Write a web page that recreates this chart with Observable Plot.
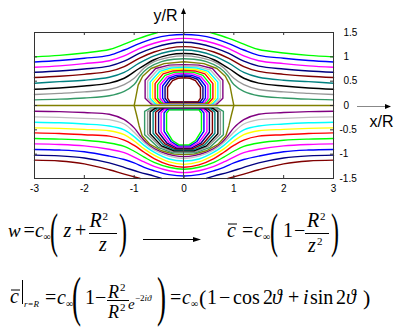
<!DOCTYPE html>
<html>
<head>
<meta charset="utf-8">
<script src="https://cdn.jsdelivr.net/npm/d3@7"></script>
<script src="https://cdn.jsdelivr.net/npm/@observablehq/plot@0.6"></script>
<style>
  body { margin: 0; background: #fff; }
  #wrap { position: relative; width: 396px; height: 329px; overflow: hidden; }
  #wrap svg { position: absolute; left: 0; top: 0; }
</style>
</head>
<body>
<div id="wrap"></div>
<script>
// Streamlines ψ = const of the flow past a circular cylinder (radius R), axes in units of R.
// The pattern is mirror-symmetric about x = 0, so each curve is listed for x ≤ 0 only.

const xTickValues = [-3, -2, -1, 0, 1, 2, 3];
const xTickLabels = ["-3", "-2", "-1", "0", "1", "2", "3"];
const yTickValues = [-1.5, -1, -0.5, 0, 0.5, 1, 1.5];
const yTickLabels = ["-1.5", "-1", "-0.5", "0", "0.5", "1", "1.5"];

// colours per level
const colorsPositive = ["#339966", "#969696", "#000000", "#008080", "#800000", "#000080", "#ff00ff", "#0000ff", "#00ff00"]; // ψ = 0.1 … 0.9
const colorsNegative = ["#800080", "#c0c0c0", "#00ffff", "#ffff00", "#ff0000", "#00ff00", "#ff00ff", "#0000ff", "#000080", "#800000"]; // ψ = -0.1 … -1.0
const colorZero = "#808000";

// outer streamlines above the axis, ψ = 0.1 … 0.9
const outerAbove = [
  [[-3,0.115],[-2.5,0.13],[-2,0.155],[-1.5,0.2],[-1.2,0.29],[-1.0,0.43],[-0.88,0.61],[-0.72,0.77],[-0.45,0.9],[-0.2,0.95],[0,0.96]],
  [[-3,0.226],[-2.5,0.25],[-2,0.28],[-1.5,0.33],[-1.2,0.43],[-1.0,0.56],[-0.8,0.77],[-0.6,0.9],[-0.3,0.99],[0,1.02]],
  [[-3,0.335],[-2.5,0.36],[-2,0.40],[-1.5,0.46],[-1.2,0.56],[-0.9,0.76],[-0.6,0.94],[-0.3,1.04],[0,1.07]],
  [[-3,0.458],[-2.5,0.49],[-2,0.52],[-1.5,0.58],[-1.2,0.68],[-0.9,0.87],[-0.6,1.02],[-0.3,1.11],[0,1.14]],
  [[-3,0.575],[-2.5,0.60],[-2,0.64],[-1.5,0.70],[-1.2,0.80],[-0.9,0.97],[-0.6,1.1],[-0.3,1.18],[0,1.21]],
  [[-3,0.684],[-2.5,0.71],[-2,0.75],[-1.5,0.81],[-1.2,0.91],[-0.9,1.07],[-0.6,1.19],[-0.3,1.27],[0,1.30]],
  [[-3,0.786],[-2.5,0.815],[-2,0.86],[-1.5,0.92],[-1.2,1.02],[-0.9,1.17],[-0.6,1.28],[-0.3,1.35],[0,1.38]],
  [[-3,0.895],[-2.5,0.925],[-2,0.97],[-1.5,1.03],[-1.2,1.14],[-0.9,1.27],[-0.6,1.38],[-0.3,1.44],[0,1.46]],
  [[-3,1.0],[-2.5,1.03],[-2,1.08],[-1.5,1.15],[-1.2,1.26],[-0.9,1.38],[-0.53,1.5]]
];

// outer streamlines below the axis, ψ = -0.1 … -1.0
const outerBelow = [
  [[-3,-0.117],[-2.5,-0.125],[-2,-0.145],[-1.5,-0.18],[-1.2,-0.29],[-1.0,-0.46],[-0.85,-0.66],[-0.7,-0.82],[-0.45,-0.96],[-0.2,-1.03],[0,-1.05]],
  [[-3,-0.234],[-2.5,-0.245],[-2,-0.265],[-1.5,-0.29],[-1.2,-0.38],[-1.0,-0.55],[-0.8,-0.76],[-0.6,-0.91],[-0.3,-1.04],[0,-1.09]],
  [[-3,-0.343],[-2.5,-0.355],[-2,-0.38],[-1.5,-0.42],[-1.2,-0.5],[-1.0,-0.64],[-0.8,-0.82],[-0.6,-0.96],[-0.3,-1.1],[0,-1.14]],
  [[-3,-0.46],[-2.5,-0.47],[-2,-0.49],[-1.5,-0.52],[-1.2,-0.6],[-1.0,-0.73],[-0.8,-0.89],[-0.6,-1.02],[-0.3,-1.16],[0,-1.21]],
  [[-3,-0.563],[-2.5,-0.575],[-2,-0.6],[-1.5,-0.63],[-1.2,-0.71],[-1.0,-0.82],[-0.8,-0.96],[-0.6,-1.09],[-0.3,-1.22],[0,-1.27]],
  [[-3,-0.678],[-2.5,-0.69],[-2,-0.715],[-1.5,-0.77],[-1.2,-0.84],[-1.0,-0.94],[-0.8,-1.06],[-0.6,-1.17],[-0.3,-1.27],[0,-1.31]],
  [[-3,-0.789],[-2.5,-0.80],[-2,-0.83],[-1.5,-0.90],[-1.2,-0.97],[-1.0,-1.06],[-0.8,-1.16],[-0.6,-1.25],[-0.3,-1.34],[0,-1.38]],
  [[-3,-0.903],[-2.5,-0.915],[-2,-0.95],[-1.5,-1.04],[-1.2,-1.11],[-1.0,-1.18],[-0.8,-1.27],[-0.6,-1.34],[-0.3,-1.42],[0,-1.45]],
  [[-3,-1.02],[-2.5,-1.035],[-2,-1.08],[-1.5,-1.18],[-1.2,-1.27],[-0.9,-1.37],[-0.6,-1.45],[-0.45,-1.5]],
  [[-3,-1.123],[-2.5,-1.14],[-2,-1.2],[-1.5,-1.32],[-1.2,-1.41],[-0.88,-1.5]]
];

// closed contours in the upper half near the body, ψ = -0.1 … -1.0
// (half outline: top of the axis → left side → bottom of the axis)
const loopsAbove = [
  [[0,0.84],[-0.3,0.83],[-0.57,0.76],[-0.78,0.52],[-0.78,0.15],[-0.66,0.03],[0,0.03]],
  [[0,0.81],[-0.28,0.80],[-0.53,0.73],[-0.73,0.50],[-0.73,0.15],[-0.62,0.035],[0,0.035]],
  [[0,0.78],[-0.26,0.77],[-0.49,0.70],[-0.68,0.48],[-0.68,0.15],[-0.58,0.04],[0,0.04]],
  [[0,0.75],[-0.24,0.74],[-0.45,0.68],[-0.63,0.47],[-0.63,0.15],[-0.54,0.045],[0,0.045]],
  [[0,0.72],[-0.22,0.71],[-0.42,0.65],[-0.58,0.45],[-0.58,0.15],[-0.49,0.05],[0,0.05]],
  [[0,0.69],[-0.2,0.68],[-0.38,0.62],[-0.53,0.43],[-0.53,0.15],[-0.45,0.055],[0,0.055]],
  [[0,0.66],[-0.18,0.65],[-0.34,0.59],[-0.48,0.42],[-0.48,0.15],[-0.41,0.06],[0,0.06]],
  [[0,0.63],[-0.16,0.62],[-0.31,0.56],[-0.43,0.40],[-0.43,0.15],[-0.37,0.065],[0,0.065]],
  [[0,0.60],[-0.14,0.59],[-0.27,0.54],[-0.38,0.38],[-0.38,0.15],[-0.32,0.07],[0,0.07]],
  [[0,0.57],[-0.12,0.56],[-0.23,0.51],[-0.33,0.37],[-0.33,0.15],[-0.28,0.075],[0,0.075]]
];

// closed contours in the lower half near the body, ψ = 0.1 … 0.9
const loopsBelow = [
  [[0,-0.05],[-0.67,-0.05],[-0.79,-0.12],[-0.79,-0.60],[-0.52,-0.86],[-0.24,-0.97],[0,-0.97]],
  [[0,-0.055],[-0.62,-0.055],[-0.73,-0.125],[-0.73,-0.59],[-0.48,-0.84],[-0.22,-0.95],[0,-0.95]],
  [[0,-0.06],[-0.58,-0.06],[-0.68,-0.13],[-0.68,-0.58],[-0.45,-0.83],[-0.2,-0.93],[0,-0.93]],
  [[0,-0.065],[-0.53,-0.065],[-0.62,-0.135],[-0.62,-0.57],[-0.41,-0.81],[-0.19,-0.91],[0,-0.91]],
  [[0,-0.07],[-0.48,-0.07],[-0.57,-0.14],[-0.57,-0.56],[-0.38,-0.79],[-0.17,-0.89],[0,-0.89]],
  [[0,-0.075],[-0.43,-0.075],[-0.51,-0.145],[-0.51,-0.55],[-0.34,-0.775],[-0.15,-0.87],[0,-0.87]],
  [[0,-0.08],[-0.39,-0.08],[-0.46,-0.15],[-0.46,-0.54],[-0.30,-0.76],[-0.14,-0.85],[0,-0.85]],
  [[0,-0.085],[-0.34,-0.085],[-0.40,-0.155],[-0.40,-0.53],[-0.26,-0.74],[-0.12,-0.83],[0,-0.83]],
  [[0,-0.09],[-0.30,-0.09],[-0.35,-0.16],[-0.35,-0.52],[-0.23,-0.72],[-0.1,-0.81],[0,-0.81]]
];

// ψ = 0: the symmetry axis and the body contour
const zeroAxis = [[-3,0],[0,0]];
const zeroBody = [[0,0.90],[-0.4,0.86],[-0.66,0.76],[-0.83,0.6],[-0.92,0.42],[-0.97,0.15],[-1.0,0],
  [-0.95,-0.2],[-0.9,-0.42],[-0.84,-0.62],[-0.68,-0.8],[-0.45,-0.93],[-0.2,-1.0],[0,-1.01]];

// ---- assemble rows for Plot.line ----
const mirror = pts => pts.map(([x, y]) => [-x, y]);
function push(target, id, color, pts) {
  for (const [x, y] of pts) target.push({id, color, x, y});
}
// open streamline: joined across x = 0, or two pieces when it leaves the frame
function addStream(target, id, color, half) {
  if (half[half.length - 1][0] === 0) {
    push(target, id, color, half.concat(mirror(half.slice(0, -1)).reverse()));
  } else {
    push(target, id + "L", color, half);
    push(target, id + "R", color, mirror(half));
  }
}
// closed contour from its left half
function addLoop(target, id, color, half) {
  push(target, id, color, half.concat(mirror(half.slice(1, -1)).reverse(), [half[0]]));
}

const smoothRows = [];
const polyRows = [];
outerAbove.forEach((h, i) => addStream(smoothRows, "a" + i, colorsPositive[i], h));
outerBelow.forEach((h, i) => addStream(smoothRows, "b" + i, colorsNegative[i], h));
addStream(polyRows, "z0", colorZero, zeroAxis);
addLoop(polyRows, "z1", colorZero, zeroBody);
loopsAbove.forEach((h, i) => addLoop(polyRows, "la" + i, colorsNegative[i], h));
loopsBelow.forEach((h, i) => addLoop(polyRows, "lb" + i, colorsPositive[i], h));

const yLabelRows = yTickValues.map((v, i) => ({v, label: yTickLabels[i]}));

const plot = Plot.plot({
  width: 396,
  height: 200,
  marginLeft: 34,
  marginRight: 63,
  marginTop: 32,
  marginBottom: 22,
  x: {domain: [-3, 3], axis: null},
  y: {domain: [-1.5, 1.5], axis: null},
  color: {type: "identity"},
  style: {fontFamily: "'Liberation Sans', Arial, sans-serif", fontSize: "10px", background: "transparent", overflow: "visible"},
  marks: [
    Plot.line(smoothRows, {x: "x", y: "y", z: "id", stroke: "color", strokeWidth: 1.4, curve: "catmull-rom"}),
    Plot.line(polyRows, {x: "x", y: "y", z: "id", stroke: "color", strokeWidth: 1.4, curve: "linear"}),
    Plot.tickX(xTickValues.slice(1, -1), {x: d => d, insetTop: 143, stroke: "#333"}),
    Plot.tickX(xTickValues.slice(1, -1), {x: d => d, insetBottom: 143, stroke: "#333"}),
    Plot.tickY(yTickValues.slice(1, -1), {y: d => d, insetRight: 296, stroke: "#333"}),
    Plot.tickY(yTickValues.slice(1, -1), {y: d => d, insetLeft: 296, stroke: "#333"}),
    Plot.frame({stroke: "#333"}),
    Plot.text(xTickValues, {x: d => d, text: (d, i) => xTickLabels[i], frameAnchor: "bottom", dy: 13, fill: "#000"}),
    Plot.text(yLabelRows, {filter: d => d.v >= 0, y: "v", text: "label", frameAnchor: "right", textAnchor: "start", dx: 10, fill: "#000"}),
    Plot.text(yLabelRows, {filter: d => d.v < 0, y: "v", text: "label", frameAnchor: "right", textAnchor: "start", dx: 6, fill: "#000"})
  ]
});

const wrap = document.getElementById("wrap");
wrap.appendChild(plot);

// coordinate axes with arrows
const X = plot.scale("x"), Y = plot.scale("y");
const svg = d3.select(plot);
const ax = X.apply(0), ay = Y.apply(0) + 1.5;
svg.append("line").attr("x1", ax).attr("x2", ax).attr("y1", Y.apply(-1.5)).attr("y2", 13)
  .attr("stroke", "#444").attr("stroke-width", 1);
svg.append("path").attr("d", `M${ax},8L${ax - 2.5},14L${ax + 2.5},14Z`).attr("fill", "#000");
svg.append("line").attr("x1", 357).attr("x2", 386).attr("y1", ay).attr("y2", ay)
  .attr("stroke", "#888").attr("stroke-width", 1);
svg.append("path").attr("d", `M391,${ay}L385,${ay - 2.5}L385,${ay + 2.5}Z`).attr("fill", "#000");
svg.append("text").attr("x", 165.5).attr("y", 20.5).attr("text-anchor", "middle")
  .attr("font-size", 16).attr("fill", "#000").text("y/R");
svg.append("text").attr("x", 381.5).attr("y", 126.5).attr("text-anchor", "middle")
  .attr("font-size", 16).attr("fill", "#000").text("x/R");

// ---- formulas below the chart ----
const math = d3.select(wrap).append("svg").attr("width", 396).attr("height", 329)
  .style("font-family", "'Liberation Serif', 'Times New Roman', serif").attr("fill", "#000");
function t(x, y, s, o = {}) {
  return math.append("text").attr("x", x).attr("y", y).attr("font-size", o.size || 20)
    .attr("font-style", o.italic ? "italic" : null).text(s);
}
function bigParen(x, y, s, size) {
  math.append("text").attr("transform", `translate(${x},${y}) scale(0.5,1)`)
    .attr("font-size", size).text(s);
}
function hline(x1, x2, y, w = 1) {
  math.append("line").attr("x1", x1).attr("x2", x2).attr("y1", y).attr("y2", y)
    .attr("stroke", "#000").attr("stroke-width", w);
}

// w = c∞ (z + R²/z)
t(8, 237, "w", {italic: true, size: 19});
t(23.5, 237, "=");
t(35, 237, "c", {italic: true});
t(43.5, 240, "∞", {size: 10});
bigParen(50, 246.5, "(", 48);
t(63.5, 237, "z", {italic: true});
t(75, 237, "+");
t(89.5, 227, "R", {italic: true});
t(102.5, 220, "2", {size: 11});
hline(89, 117, 233.5);
t(99, 251, "z", {italic: true});
bigParen(119, 246.5, ")", 48);

// arrow
hline(143, 196, 239.5);
math.append("path").attr("d", "M201,239.5L193,237L193,242Z");

// c̄ = c∞ (1 − R²/z²)
t(227, 237, "c", {italic: true});
hline(228, 237, 224);
t(242, 237, "=");
t(254, 237, "c", {italic: true});
t(263, 240, "∞", {size: 10});
bigParen(270, 246.5, "(", 48);
t(283, 237, "1");
t(294, 237, "−");
t(307, 227, "R", {italic: true});
t(320, 220, "2", {size: 11});
hline(305, 329, 233.5);
t(308, 252, "z", {italic: true});
t(317, 245, "2", {size: 11});
bigParen(331, 246.5, ")", 48);

// c̄|r=R = c∞ (1 − R²/R² e^(−2iϑ)) = c∞ (1 − cos 2ϑ + i sin 2ϑ)
t(10, 303, "c", {italic: true});
hline(11, 20, 290);
math.append("line").attr("x1", 22.5).attr("x2", 22.5).attr("y1", 280).attr("y2", 304)
  .attr("stroke", "#000").attr("stroke-width", 1);
t(24, 307, "r=R", {italic: true, size: 9});
t(45, 304, "=");
t(57, 304, "c", {italic: true});
t(66, 307, "∞", {size: 10});
bigParen(72, 315, "(", 54);
t(85, 304, "1");
t(95, 304, "−");
t(108, 298, "R", {italic: true, size: 18});
t(120, 291, "2", {size: 11});
hline(107, 129, 300.5);
t(108, 318, "R", {italic: true, size: 18});
t(120, 311, "2", {size: 11});
t(128, 309, "e", {italic: true, size: 15});
t(135, 301, "−2", {size: 9});
t(144.5, 301, "iϑ", {size: 9, italic: true});
bigParen(157, 315, ")", 54);
t(170, 304, "=");
t(182, 304, "c", {italic: true});
t(191, 307, "∞", {size: 10});
t(199, 305, "(", {size: 22});
t(207, 304, "1");
t(219, 304, "−");
t(233, 304, "cos");
t(263, 304, "2");
t(272, 304, "ϑ", {italic: true});
t(288, 304, "+");
t(303, 304, "i", {italic: true});
t(310, 304, "sin");
t(336, 304, "2");
t(346, 304, "ϑ", {italic: true});
t(363, 305, ")", {size: 22});
</script>
</body>
</html>
